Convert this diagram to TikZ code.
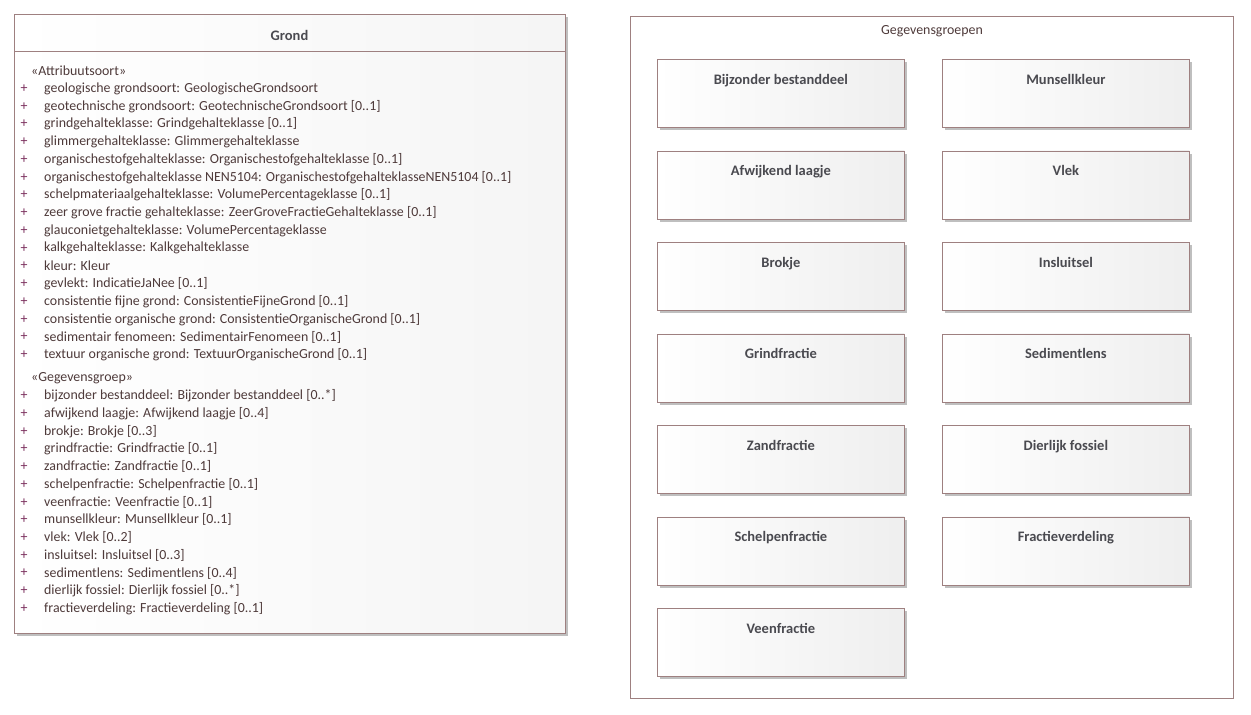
\documentclass[tikz,border=0pt]{standalone}
\usepackage{fontspec}
\setmainfont{Carlito}
\usepackage{tikz}
\usetikzlibrary{shadows}
\definecolor{randkleur}{HTML}{9E8080}
\definecolor{tekstkleur}{HTML}{4E3A3A}
\definecolor{titelkleur}{HTML}{4A4A50}
\definecolor{pluskleur}{HTML}{7A2E5C}
\tikzset{
  klasse/.style={
    draw=randkleur, thick, left color=white, right color=gray!8,
    drop shadow={fill=black!25, opacity=1, shadow xshift=3pt, shadow yshift=-3pt},
  },
  groep/.style={
    draw=randkleur, thick, left color=white, right color=gray!13,
    drop shadow={fill=black!25, opacity=1, shadow xshift=3pt, shadow yshift=-3pt},
    anchor=north west, minimum width=247pt, inner xsep=0pt,
    inner ysep=15pt, text height=10pt, text depth=28pt,
    font=\fontsize{14.5}{16}\selectfont\bfseries, text=titelkleur,
  },
  kader/.style={draw=randkleur, thick},
  attr/.style={anchor=west, inner sep=0pt, text=tekstkleur},
  plus/.style={inner sep=0pt, text=pluskleur},
}

\begin{document}
\begin{tikzpicture}[x=1pt, y=-1pt, font=\fontsize{13.9}{16}\selectfont]
        \useasboundingbox (0,0) rectangle (1251,715);

        % klasse Grond
        \node[klasse, anchor=north west, minimum width=551pt, minimum height=619pt] (grond) at (14,14) {};
        \node[font=\fontsize{14.5}{16}\selectfont\bfseries, text=titelkleur] (grondtitel) at (289.5,35) {Grond};
        \draw[randkleur, thick] (14,51) -- (565,51);

        \node[attr] (st1) at (31,71) {«Attribuutsoort»};
        \foreach \t [count=\i] in {
            {geologische grondsoort: GeologischeGrondsoort},
            {geotechnische grondsoort: GeotechnischeGrondsoort [0..1]},
            {grindgehalteklasse: Grindgehalteklasse [0..1]},
            {glimmergehalteklasse: Glimmergehalteklasse},
            {organischestofgehalteklasse: Organischestofgehalteklasse [0..1]},
            {organischestofgehalteklasse NEN5104: OrganischestofgehalteklasseNEN5104 [0..1]},
            {schelpmateriaalgehalteklasse: VolumePercentageklasse [0..1]},
            {zeer grove fractie gehalteklasse: ZeerGroveFractieGehalteklasse [0..1]},
            {glauconietgehalteklasse: VolumePercentageklasse},
            {kalkgehalteklasse: Kalkgehalteklasse},
            {kleur: Kleur},
            {gevlekt: IndicatieJaNee [0..1]},
            {consistentie fijne grond: ConsistentieFijneGrond [0..1]},
            {consistentie organische grond: ConsistentieOrganischeGrond [0..1]},
            {sedimentair fenomeen: SedimentairFenomeen [0..1]},
            {textuur organische grond: TextuurOrganischeGrond [0..1]}}
        {
            \node[plus] (ap\i) at (24,{88.5+17.75*(\i-1)}) {+};
            \node[attr] (a\i) at (44,{88.5+17.75*(\i-1)}) {\t};
        }

        \node[attr] (st2) at (31,378) {«Gegevensgroep»};
        \foreach \t [count=\i] in {
            {bijzonder bestanddeel: Bijzonder bestanddeel [0..*]},
            {afwijkend laagje: Afwijkend laagje [0..4]},
            {brokje: Brokje [0..3]},
            {grindfractie: Grindfractie [0..1]},
            {zandfractie: Zandfractie [0..1]},
            {schelpenfractie: Schelpenfractie [0..1]},
            {veenfractie: Veenfractie [0..1]},
            {munsellkleur: Munsellkleur [0..1]},
            {vlek: Vlek [0..2]},
            {insluitsel: Insluitsel [0..3]},
            {sedimentlens: Sedimentlens [0..4]},
            {dierlijk fossiel: Dierlijk fossiel [0..*]},
            {fractieverdeling: Fractieverdeling [0..1]}}
        {
            \node[plus] (gp\i) at (24,{396+17.7*(\i-1)}) {+};
            \node[attr] (g\i) at (44,{396+17.7*(\i-1)}) {\t};
        }

        % pakket Gegevensgroepen
        \node[kader, anchor=north west, minimum width=603pt, minimum height=682pt] (pakket) at (630,16) {};
        \node[text=tekstkleur] (pakkettitel) at (932,31) {Gegevensgroepen};

        \node[groep] (bijzonder) at (657,59) {Bijzonder bestanddeel};
        \node[groep] (munsell) at (942,59) {Munsellkleur};
        \node[groep] (afwijkend) at (657,150.5) {Afwijkend laagje};
        \node[groep] (vlek) at (942,150.5) {Vlek};
        \node[groep] (brokje) at (657,242) {Brokje};
        \node[groep] (insluitsel) at (942,242) {Insluitsel};
        \node[groep] (grind) at (657,333.5) {Grindfractie};
        \node[groep] (sedimentlens) at (942,333.5) {Sedimentlens};
        \node[groep] (zand) at (657,425) {Zandfractie};
        \node[groep] (fossiel) at (942,425) {Dierlijk fossiel};
        \node[groep] (schelpen) at (657,516.5) {Schelpenfractie};
        \node[groep] (fractie) at (942,516.5) {Fractieverdeling};
        \node[groep] (veen) at (657,608) {Veenfractie};
    \end{tikzpicture}
\end{document}
